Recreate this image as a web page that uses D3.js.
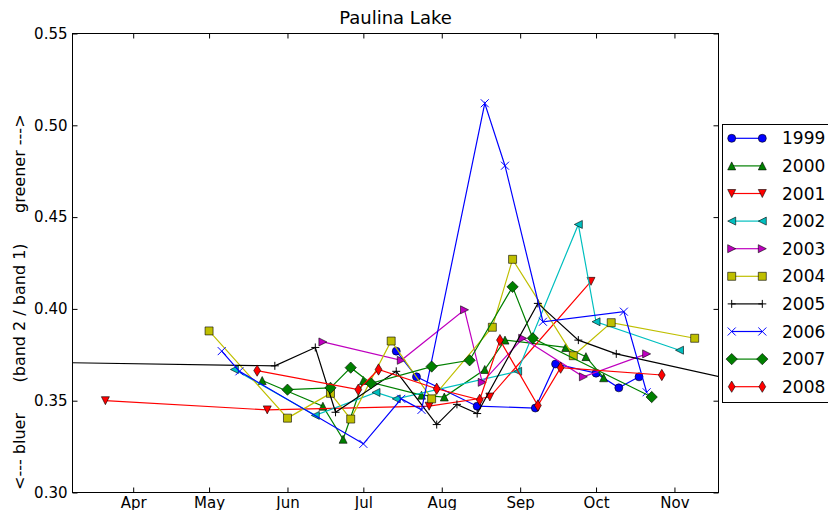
<!DOCTYPE html>
<html>
<head>
<meta charset="utf-8">
<script src="https://cdnjs.cloudflare.com/ajax/libs/d3/7.8.5/d3.min.js"></script>
<style>
  body { margin: 0; background: #ffffff; }
  text { font-family: "DejaVu Sans", sans-serif; fill: #000000; }
</style>
</head>
<body>
<div id="chart"></div>
<script>
// Observation dates (month-day) and band2/band1 ratios, one pair of arrays per year.
var years = ["1999", "2000", "2001", "2002", "2003", "2004", "2005", "2006", "2007", "2008"];

var dates1999 = ["07-14", "07-22", "08-15", "09-07", "09-15", "10-01", "10-10", "10-18"];
var ratio1999 = [0.377, 0.363, 0.347, 0.346, 0.370, 0.365, 0.357, 0.363];

var dates2000 = ["05-22", "06-15", "06-23", "07-01", "07-24", "08-02", "08-18", "08-26", "09-19", "09-27", "10-04"];
var ratio2000 = [0.361, 0.347, 0.329, 0.361, 0.353, 0.352, 0.367, 0.383, 0.379, 0.374, 0.3625];

var dates2001 = ["03-21", "05-24", "07-27", "08-20", "09-29"];
var ratio2001 = [0.350, 0.345, 0.347, 0.352, 0.415];

var dates2002 = ["05-11", "06-12", "07-06", "07-14", "08-31", "09-24", "10-01", "11-03"];
var ratio2002 = [0.367, 0.342, 0.3545, 0.351, 0.366, 0.446, 0.393, 0.3775];

var dates2003 = ["06-15", "07-16", "08-10", "08-17", "09-02", "09-26", "10-21"];
var ratio2003 = [0.382, 0.372, 0.3995, 0.360, 0.384, 0.363, 0.3755];

var dates2004 = ["05-01", "06-01", "06-18", "06-26", "07-12", "07-28", "08-21", "08-29", "09-22", "10-07", "11-09"];
var ratio2004 = [0.388, 0.3405, 0.354, 0.340, 0.3825, 0.351, 0.390, 0.427, 0.3745, 0.3925, 0.384];

var dates2005 = ["02-20", "05-27", "06-12", "06-20", "07-14", "07-30", "08-07", "08-15", "09-08", "09-24", "10-09", "12-10"];
var ratio2005 = [0.371, 0.369, 0.379, 0.3437, 0.366, 0.337, 0.348, 0.343, 0.403, 0.383, 0.3755, 0.3565];

var dates2006 = ["05-06", "05-13", "07-01", "07-16", "07-24", "08-18", "08-26", "09-10", "10-12", "10-21"];
var ratio2006 = [0.377, 0.366, 0.3265, 0.351, 0.345, 0.512, 0.478, 0.393, 0.3985, 0.3546];

var dates2007 = ["06-01", "06-18", "06-26", "07-04", "07-28", "08-12", "08-29", "09-06", "10-23"];
var ratio2007 = [0.356, 0.357, 0.368, 0.3595, 0.3686, 0.372, 0.412, 0.384, 0.352];

var dates2008 = ["05-20", "06-29", "07-07", "07-30", "08-16", "08-24", "09-08", "09-17", "10-27"];
var ratio2008 = [0.3664, 0.356, 0.367, 0.3565, 0.3505, 0.383, 0.3474, 0.368, 0.364];

var yTicks = [0.30, 0.35, 0.40, 0.45, 0.50, 0.55];

var allDates = [dates1999, dates2000, dates2001, dates2002, dates2003, dates2004, dates2005, dates2006, dates2007, dates2008];
var allRatios = [ratio1999, ratio2000, ratio2001, ratio2002, ratio2003, ratio2004, ratio2005, ratio2006, ratio2007, ratio2008];

// Matplotlib-ish style for each year.
var colors = ["#0000ff", "#008000", "#ff0000", "#00bfbf", "#bf00bf", "#bfbf00", "#000000", "#0000ff", "#008000", "#ff0000"];
var markers = ["o", "^", "v", "<", ">", "s", "+", "x", "D", "d"];

var svgWidth = 828;
var svgHeight = 510;

var margin = { top: 33.5, left: 72.5 };
var width = 646;
var height = 459;

var svg = d3.select("#chart")
    .append("svg")
    .attr("width", svgWidth)
    .attr("height", svgHeight);

var chartGroup = svg.append("g")
    .attr("transform", `translate(${margin.left}, ${margin.top})`);

// all years share one (non-leap) calendar year
var parseDay = d3.utcParse("%Y-%m-%d");
function toDate(md) { return parseDay("2001-" + md); }

var xTimeScale = d3.scaleUtc()
    .domain([new Date(Date.UTC(2001, 2, 8)), new Date(Date.UTC(2001, 10, 18, 10))])
    .range([0, width]);

var yLinearScale = d3.scaleLinear()
    .domain([0.30, 0.55])
    .range([height, 0]);

// Marker shapes, size in px.
var ms = 8;
function markerPath(kind) {
    var h = ms / 2;
    var r = ms * Math.SQRT2 / 2;
    switch (kind) {
        case "o": return d3.symbol(d3.symbolCircle, Math.PI * h * h)();
        case "^": return `M0,${-h}L${h},${h}L${-h},${h}Z`;
        case "v": return `M0,${h}L${h},${-h}L${-h},${-h}Z`;
        case "<": return `M${-h},0L${h},${-h}L${h},${h}Z`;
        case ">": return `M${h},0L${-h},${-h}L${-h},${h}Z`;
        case "s": return `M${-h},${-h}H${h}V${h}H${-h}Z`;
        case "+": return `M${-h},0H${h}M0,${-h}V${h}`;
        case "x": return `M${-h},${-h}L${h},${h}M${-h},${h}L${h},${-h}`;
        case "D": return `M0,${-r}L${r},0L0,${r}L${-r},0Z`;
        case "d": return `M0,${-r}L${0.6 * r},0L0,${r}L${-0.6 * r},0Z`;
    }
}
function isOpen(kind) { return kind === "+" || kind === "x"; }

function styleMarker(sel, i) {
    var open = isOpen(markers[i]);
    sel.attr("d", markerPath(markers[i]))
        .attr("fill", open ? "none" : colors[i])
        .attr("stroke", open ? colors[i] : "#000000")
        .attr("stroke-width", open ? 1 : 0.6);
}

// Clip everything to the axes box.
svg.append("defs").append("clipPath")
    .attr("id", "plotClip")
    .append("rect")
    .attr("x", 0)
    .attr("y", 0)
    .attr("width", width)
    .attr("height", height);

var plotGroup = chartGroup.append("g").attr("clip-path", "url(#plotClip)");

var line = d3.line()
    .x(d => xTimeScale(d.date))
    .y(d => yLinearScale(d.value));

years.forEach(function(year, i) {
    var seriesData = allDates[i].map(function(md, j) {
        return { date: toDate(md), value: allRatios[i][j] };
    });

    plotGroup.append("path")
        .datum(seriesData)
        .attr("d", line)
        .attr("fill", "none")
        .attr("stroke", colors[i])
        .attr("stroke-width", 1.2);

    plotGroup.selectAll(".m" + year)
        .data(seriesData)
        .enter()
        .append("path")
        .attr("class", "m" + year)
        .attr("transform", d => `translate(${xTimeScale(d.date)}, ${yLinearScale(d.value)})`)
        .call(styleMarker, i);
});

// Axes: ticks point inward on all four sides.
var bottomAxis = d3.axisBottom(xTimeScale)
    .ticks(d3.utcMonth.every(1))
    .tickFormat(d3.utcFormat("%b"))
    .tickSizeInner(-5)
    .tickSizeOuter(0)
    .tickPadding(5);

var topAxis = d3.axisTop(xTimeScale)
    .ticks(d3.utcMonth.every(1))
    .tickFormat("")
    .tickSizeInner(-5)
    .tickSizeOuter(0);

var leftAxis = d3.axisLeft(yLinearScale)
    .tickValues(yTicks)
    .tickFormat(d3.format(".2f"))
    .tickSizeInner(-5)
    .tickSizeOuter(0)
    .tickPadding(5);

var rightAxis = d3.axisRight(yLinearScale)
    .tickValues(yTicks)
    .tickFormat("")
    .tickSizeInner(-5)
    .tickSizeOuter(0);

var axes = [
    chartGroup.append("g").attr("transform", `translate(0, ${height})`).call(bottomAxis),
    chartGroup.append("g").call(topAxis),
    chartGroup.append("g").call(leftAxis),
    chartGroup.append("g").attr("transform", `translate(${width}, 0)`).call(rightAxis)
];
axes.forEach(function(a) {
    a.select(".domain").remove();
    a.selectAll(".tick line").attr("stroke", "#000000");
    a.selectAll(".tick text").style("font-size", "15px").attr("fill", "#000000");
});

// Frame
chartGroup.append("rect")
    .attr("x", 0)
    .attr("y", 0)
    .attr("width", width)
    .attr("height", height)
    .attr("fill", "none")
    .attr("stroke", "#000000")
    .attr("stroke-width", 1);

// Title and y label
svg.append("text")
    .attr("x", margin.left + width / 2)
    .attr("y", 24)
    .attr("text-anchor", "middle")
    .style("font-size", "18px")
    .text("Paulina Lake");

// label reads bottom-up, starting level with the bottom spine
svg.append("text")
    .attr("transform", "translate(19, 490) rotate(-90)")
    .attr("text-anchor", "start")
    .attr("dy", "0.35em")
    .attr("xml:space", "preserve")
    .style("white-space", "pre")
    .style("font-size", "16px")
    .text("<--- bluer      (band 2 / band 1)      greener --->");

// Legend (runs off the right edge, as in the original)
var legend = svg.append("g");
legend.append("rect")
    .attr("x", 722.5)
    .attr("y", 124.5)
    .attr("width", 140)
    .attr("height", 278)
    .attr("fill", "#ffffff")
    .attr("stroke", "#000000")
    .attr("stroke-width", 1);

years.forEach(function(year, i) {
    var y = 138.3 + i * 27.6;
    legend.append("line")
        .attr("x1", 731.7)
        .attr("x2", 762.3)
        .attr("y1", y)
        .attr("y2", y)
        .attr("stroke", colors[i])
        .attr("stroke-width", 1.2);
    [731.7, 762.3].forEach(function(x) {
        legend.append("path")
            .attr("transform", `translate(${x}, ${y})`)
            .call(styleMarker, i);
    });
    legend.append("text")
        .attr("x", 782)
        .attr("y", y)
        .attr("dy", "0.36em")
        .style("font-size", "17px")
        .text(year);
});
</script>
</body>
</html>
